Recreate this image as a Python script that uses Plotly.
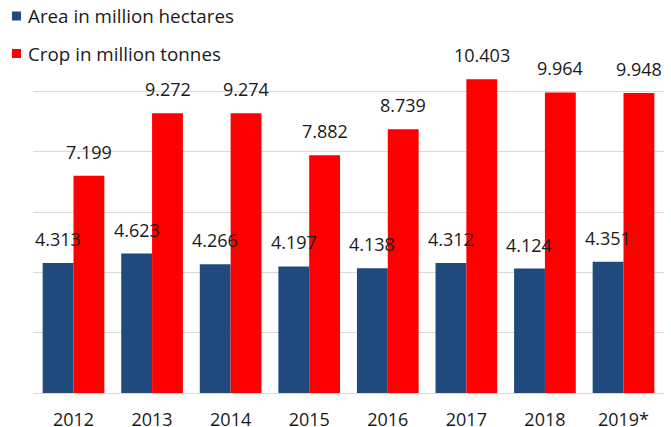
import plotly.graph_objects as go

years = ["2012", "2013", "2014", "2015", "2016", "2017", "2018", "2019*"]
area = [4.313, 4.623, 4.266, 4.197, 4.138, 4.312, 4.124, 4.351]
crop = [7.199, 9.272, 9.274, 7.882, 8.739, 10.403, 9.964, 9.948]
area_name = "Area in million hectares"
crop_name = "Crop in million tonnes"

BLUE = "#204A7D"
RED = "#FF0000"
FONT = "Open Sans"
TXT = "#1a1a1a"
LBL = 18

fig = go.Figure()
fig.add_trace(go.Bar(x=years, y=area, name=area_name, marker_color=BLUE,
                     marker_line_width=0, showlegend=False))
fig.add_trace(go.Bar(x=years, y=crop, name=crop_name, marker_color=RED,
                     marker_line_width=0, showlegend=False))

annotations = []
for i, (a, c) in enumerate(zip(area, crop)):
    annotations.append(dict(x=i, y=a, text=f"{a:.3f}", xref="x", yref="y",
                            showarrow=False, yanchor="bottom", xshift=-15.5, yshift=10,
                            font=dict(family=FONT, size=LBL, color=TXT)))
    annotations.append(dict(x=i, y=c, text=f"{c:.3f}", xref="x", yref="y",
                            showarrow=False, yanchor="bottom", xshift=15.5, yshift=10,
                            font=dict(family=FONT, size=LBL, color=TXT)))

# legend drawn as squares + text at the top-left
W, H = 631.0, 362.0
def px_x(p):
    return (p - 33) / W
def px_y(p):
    return (393 - p) / H

shapes = []
for name, col, cy in [(area_name, BLUE, 16), (crop_name, RED, 53.5)]:
    shapes.append(dict(type="rect", xref="paper", yref="paper",
                       x0=px_x(12), x1=px_x(21), y0=px_y(cy - 4.5), y1=px_y(cy + 4.5),
                       fillcolor=col, line_width=0, layer="above"))
    annotations.append(dict(x=px_x(25.5), y=px_y(cy), xref="paper", yref="paper",
                            xanchor="left", yanchor="middle", showarrow=False, text=name,
                            font=dict(family=FONT, size=18.8, color=TXT)))

fig.update_layout(
    width=671, height=427,
    margin=dict(l=33, r=7, t=31, b=34, autoexpand=False),
    paper_bgcolor="white", plot_bgcolor="white",
    barmode="group", bargap=0.215, bargroupgap=0,
    font=dict(family=FONT, size=LBL, color=TXT),
    showlegend=False,
    annotations=annotations,
    shapes=shapes,
    xaxis=dict(type="category", showgrid=False, showline=True, linecolor="#D9D9D9", linewidth=1,
               ticks="", ticklabelstandoff=10, tickfont=dict(family=FONT, size=LBL)),
    yaxis=dict(range=[0, 12], dtick=2, showgrid=True, gridcolor="#D9D9D9", gridwidth=1,
               showticklabels=False, zeroline=False, showline=False),
)

fig.write_html("out.html", config={"displayModeBar": False},
               post_script="document.body.style.margin='0';document.body.style.overflow='hidden';")
